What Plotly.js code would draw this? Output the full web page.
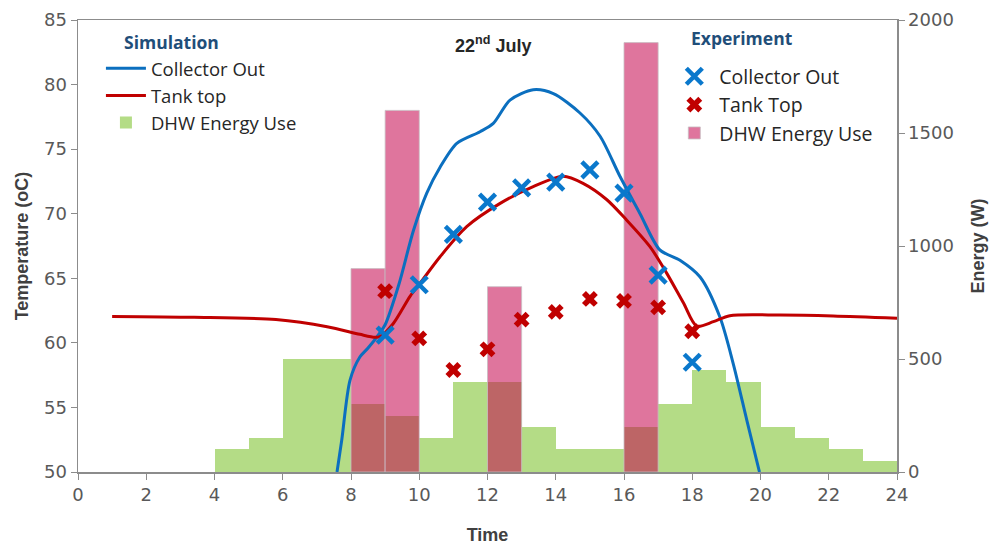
<!DOCTYPE html>
<html>
<head>
<meta charset="utf-8">
<script src="https://cdn.plot.ly/plotly-3.0.1.min.js"></script>
<style>html,body{margin:0;padding:0;background:#fff;}#chart{width:991px;height:549px;}</style>
</head>
<body>
<div id="chart"></div>
<script>
// ---- Data ----
const hourStarts = [0,1,2,3,4,5,6,7,8,9,10,11,12,13,14,15,16,17,18,19,20,21,22,23];
const simEnergy  = [0,0,0,0,100,150,500,500,300,250,150,400,400,200,100,100,200,300,450,400,200,150,100,50];

const expEnergyHours = [8,9,12,16];
const expEnergy      = [900,1600,820,1900];

const simCollectorTime = [7.59,7.73,7.97,8.26,8.5,8.85,9.0,9.4,9.83,10.22,10.61,11.1,11.78,12.17,12.66,13.34,13.93,14.71,15.3,15.88,16.47,17.05,17.64,18.23,18.81,19.2,19.6,19.97];
const simCollectorTemp = [50,52.5,57.1,58.9,59.6,60.8,61.4,64.5,68.7,71.6,73.6,75.45,76.35,77.0,78.8,79.6,79.3,77.8,76.0,72.9,70.0,67.2,66.4,65.1,62.0,58.4,54.0,50];

const simTankTime = [1,3.4,5.8,7.3,8.26,8.7,8.85,9.24,9.73,10.02,10.61,11.39,12.37,13.34,14.22,14.8,15.49,16.08,16.76,17.25,17.74,18.13,18.62,19.1,20.57,22.13,24];
const simTankTemp = [62.05,61.98,61.8,61.25,60.66,60.43,60.48,61.5,63.6,64.6,66.67,69.0,70.8,72.1,72.9,72.35,71.1,69.5,67.45,65.4,63.1,61.3,61.64,62.1,62.15,62.08,61.9];

const expHours     = [9,10,11,12,13,14,15,16,17,18];
const expCollector = [60.6,64.5,68.4,70.9,72.0,72.45,73.4,71.6,65.25,58.5];
const expTank      = [64.0,60.35,57.9,59.5,61.8,62.4,63.4,63.25,62.75,60.9];

const chartTitle = '22<sup>nd</sup> July';
const simLegendTitle = 'Simulation';
const expLegendTitle = 'Experiment';

// ---- Traces ----
const blue = '#0B6FBF';
const red  = '#C00000';
const legFont1 = {family:'"Open Sans", Lato, sans-serif', size:18.5, color:'#262626'};
const legFont2 = {family:'"Open Sans", Lato, sans-serif', size:19.5, color:'#262626'};
const legTitleFont = {family:'"Open Sans", Lato, sans-serif', size:17.5, color:'#1F4E79', weight:'bold'};

const traces = [
  {type:'bar', x:hourStarts, y:simEnergy, offset:0, width:1, yaxis:'y',
   name:'DHW Energy Use', legend:'legend', legendrank:3,
   marker:{color:'#B4DC86', line:{width:0}}},
  {type:'bar', x:expEnergyHours, y:expEnergy, offset:0, width:1, yaxis:'y',
   name:'DHW Energy Use', legend:'legend2', legendrank:3,
   marker:{color:'rgba(196,4,76,0.55)', line:{width:1, color:'rgba(200,190,195,0.8)'}}},
  {type:'scatter', mode:'lines', x:simCollectorTime, y:simCollectorTemp, yaxis:'y2',
   name:'Collector Out', legend:'legend', legendrank:1,
   line:{color:blue, width:3, shape:'spline', smoothing:0.8}},
  {type:'scatter', mode:'lines', x:simTankTime, y:simTankTemp, yaxis:'y2',
   name:'Tank top', legend:'legend', legendrank:2,
   line:{color:red, width:3, shape:'spline', smoothing:0.8}},
  {type:'scatter', mode:'markers', x:expHours, y:expCollector, yaxis:'y2',
   name:'Collector Out', legend:'legend2', legendrank:1,
   marker:{symbol:'x-thin-open', size:16, color:'#0A78CC', line:{width:4.5, color:'#0A78CC'}}},
  {type:'scatter', mode:'markers', x:expHours, y:expTank, yaxis:'y2',
   name:'Tank Top', legend:'legend2', legendrank:2,
   marker:{symbol:'x', size:14, color:red, line:{width:0}}}
];

const tickFont = {family:'"DejaVu Sans", sans-serif', size:18, color:'#595959'};
const titleFont = {family:'"Liberation Sans", Arial, sans-serif', size:18, color:'#404040', weight:'bold'};

const layout = {
  width:991, height:549,
  margin:{l:78, r:94, t:20, b:77},
  paper_bgcolor:'#fff', plot_bgcolor:'#fff',
  barmode:'overlay', bargap:0,
  showlegend:true,
  xaxis:{range:[0,24], dtick:2, tick0:0, showgrid:false, zeroline:false,
    showline:true, linecolor:'#8C8C8C', linewidth:1.5, mirror:true,
    ticks:'outside', ticklen:6, tickcolor:'#8C8C8C',
    tickfont:tickFont,
    title:{text:'Time', font:titleFont, standoff:24}},
  yaxis:{range:[0,2000], dtick:500, side:'right', showgrid:false, zeroline:false,
    showline:true, linecolor:'#8C8C8C', linewidth:1.5,
    ticks:'outside', ticklen:6, tickcolor:'#8C8C8C',
    tickfont:tickFont,
    title:{text:'Energy (W)', font:titleFont, standoff:18}},
  yaxis2:{range:[50,85], dtick:5, side:'left', overlaying:'y', showgrid:false, zeroline:false,
    showline:true, linecolor:'#8C8C8C', linewidth:1.5,
    ticks:'outside', ticklen:6, tickcolor:'#8C8C8C',
    tickfont:tickFont,
    title:{text:'Temperature (oC)', font:titleFont, standoff:10}},
  legend:{x:0.028, y:0.934, xanchor:'left', yanchor:'top', bgcolor:'rgba(0,0,0,0)',
    font:legFont1, tracegroupgap:0, itemwidth:40},
  legend2:{x:0.722, y:0.918, xanchor:'left', yanchor:'top', bgcolor:'rgba(0,0,0,0)',
    font:legFont2, tracegroupgap:0, itemwidth:40},
  annotations:[
    {text:chartTitle, xref:'paper', yref:'paper', x:0.507, y:0.945,
     xanchor:'center', yanchor:'middle', showarrow:false,
     font:{family:'"Liberation Sans", Arial, sans-serif', size:18, color:'#262626', weight:'bold'}},
    {text:simLegendTitle, xref:'paper', yref:'paper', x:(171-78)/819, y:(472-42)/452,
     xanchor:'center', yanchor:'middle', showarrow:false, font:legTitleFont},
    {text:expLegendTitle, xref:'paper', yref:'paper', x:(742-78)/819, y:(472-38)/452,
     xanchor:'center', yanchor:'middle', showarrow:false, font:legTitleFont}
  ]
};

Plotly.newPlot('chart', traces, layout, {displayModeBar:false, staticPlot:true});
</script>
</body>
</html>
